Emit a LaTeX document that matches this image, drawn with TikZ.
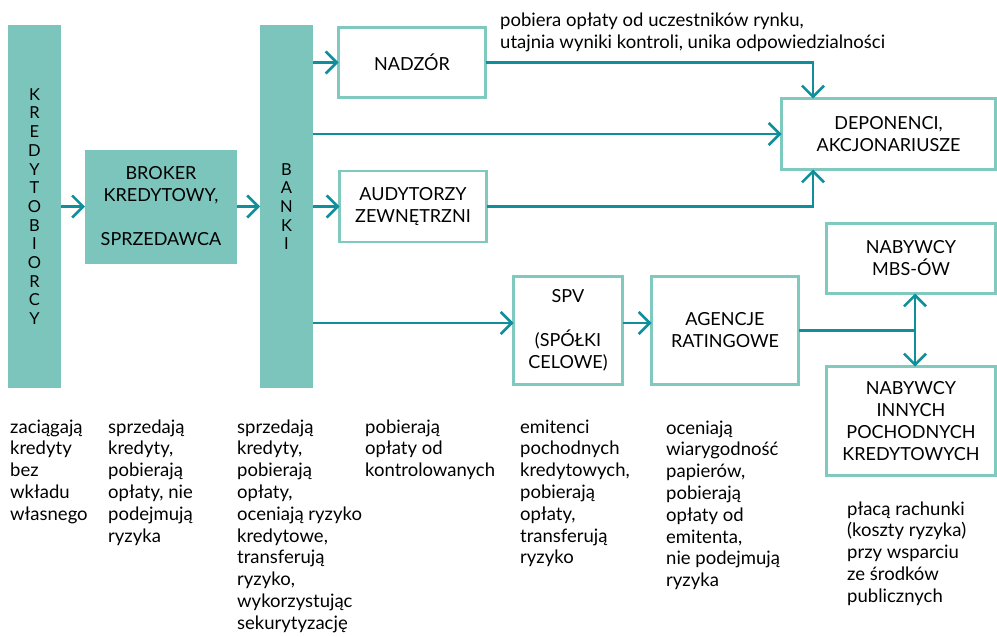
\documentclass[tikz,border=0pt]{standalone}
\usepackage{fontspec}
\setmainfont{Lato}
\usetikzlibrary{arrows.meta}
\definecolor{tfill}{HTML}{7CC5BC}
\definecolor{tborder}{HTML}{80C9BF}
\definecolor{tline}{HTML}{0F8F9B}
\newcommand{\dlines}[1]{\begin{tabular}[t]{@{}l@{}}#1\end{tabular}}
\begin{document}
\begin{tikzpicture}[x=1pt,y=-1pt,
  bar/.style={fill=tfill,draw=none,inner sep=0pt,outer sep=0pt,align=center,
    font=\fontsize{16.5}{18.7}\selectfont},
  fbox/.style={fill=tfill,draw=none,inner sep=0pt,outer sep=0pt,align=center,
    font=\fontsize{18}{22}\selectfont},
  obox/.style={draw=tborder,line width=2.6pt,fill=white,inner sep=0pt,outer sep=0pt,align=center,
    font=\fontsize{18}{22}\selectfont},
  arr/.style={draw=tline,line width=2.6pt,-{Straight Barb[length=11pt,width=22pt,line width=2.6pt]}},
  ln/.style={draw=tline,line width=2.6pt},
  desc/.style={anchor=base west,inner sep=0pt,font=\fontsize{18.5}{21.8}\selectfont}]
\useasboundingbox (0,0) rectangle (997,637);

\node[bar,minimum width=53pt,minimum height=363pt] (kred) at (34.5,206.5)
  {K\\R\\E\\D\\Y\\T\\O\\B\\I\\O\\R\\C\\Y};
\node[fbox,minimum width=152pt,minimum height=114pt] (broker) at (161,206.5)
  {BROKER\\KREDYTOWY,\\[22pt]SPRZEDAWCA};
\node[bar,minimum width=53pt,minimum height=363pt] (banki) at (286.5,206.5)
  {B\\A\\N\\K\\I};
\node[obox,minimum width=147pt,minimum height=70pt] (nadzor) at (412,62.5) {NADZÓR};
\node[obox,minimum width=147pt,minimum height=71pt] (audyt) at (413,206.5) {AUDYTORZY\\ZEWNĘTRZNI};
\node[obox,minimum width=214pt,minimum height=71pt] (depon) at (888.5,134) {DEPONENCI,\\AKCJONARIUSZE};
\node[obox,minimum width=169pt,minimum height=70pt] (mbs) at (911,258.5) {NABYWCY\\MBS-ÓW};
\node[obox,minimum width=169pt,minimum height=109pt] (innych) at (911,421) {NABYWCY\\INNYCH\\POCHODNYCH\\KREDYTOWYCH};
\node[obox,minimum width=109pt,minimum height=108pt] (spv) at (568,330.5) {SPV\\[22pt](SPÓŁKI\\CELOWE)};
\node[obox,minimum width=147pt,minimum height=108pt] (agencje) at (725,330.5) {AGENCJE\\RATINGOWE};

\coordinate (spvin) at ([yshift=7.5pt]spv.west);
\coordinate (spvout) at ([yshift=7.5pt]spv.east);
\coordinate (agin) at ([yshift=7.5pt]agencje.west);
\coordinate (dtop) at ([xshift=-75.5pt]depon.north);
\coordinate (dbot) at ([xshift=-75.5pt]depon.south);
\coordinate (junc) at (915,330.5);

\draw[arr] (kred.east) -- (broker.west);
\draw[arr] (broker.east) -- (banki.west);
\draw[arr] (banki.east |- nadzor.west) -- (nadzor.west);
\draw[arr] (banki.east |- depon.west) -- (depon.west);
\draw[arr] (banki.east |- audyt.west) -- (audyt.west);
\draw[arr] (banki.east |- spvin) -- (spvin);
\draw[arr] (spvout) -- (agin);
\draw[arr] (nadzor.east) -| (dtop);
\draw[arr] (audyt.east) -| (dbot);
\draw[ln] (agencje.east) -- (junc);
\draw[arr] (junc) -- (junc |- mbs.south);
\draw[arr] (junc) -- (junc |- innych.north);

\node[desc] (ltop) at (500,27) {\dlines{pobiera opłaty od uczestników rynku,\\utajnia wyniki kontroli, unika odpowiedzialności}};
\node[desc] (d1) at (10,433) {\dlines{zaciągają\\kredyty\\bez\\wkładu\\własnego}};
\node[desc] (d2) at (108,433) {\dlines{sprzedają\\kredyty,\\pobierają\\opłaty, nie\\podejmują\\ryzyka}};
\node[desc] (d3) at (237,433) {\dlines{sprzedają\\kredyty,\\pobierają\\opłaty,\\oceniają ryzyko\\kredytowe,\\transferują\\ryzyko,\\wykorzystując\\sekurytyzację}};
\node[desc] (d4) at (365,433) {\dlines{pobierają\\opłaty od\\kontrolowanych}};
\node[desc] (d5) at (520,433) {\dlines{emitenci\\pochodnych\\kredytowych,\\pobierają\\opłaty,\\transferują\\ryzyko}};
\node[desc] (d6) at (666,434) {\dlines{oceniają\\wiarygodność\\papierów,\\pobierają\\opłaty od\\emitenta,\\nie podejmują\\ryzyka}};
\node[desc] (d7) at (847,515) {\dlines{płacą rachunki\\(koszty ryzyka)\\przy wsparciu\\ze środków\\publicznych}};
\end{tikzpicture}
\end{document}
